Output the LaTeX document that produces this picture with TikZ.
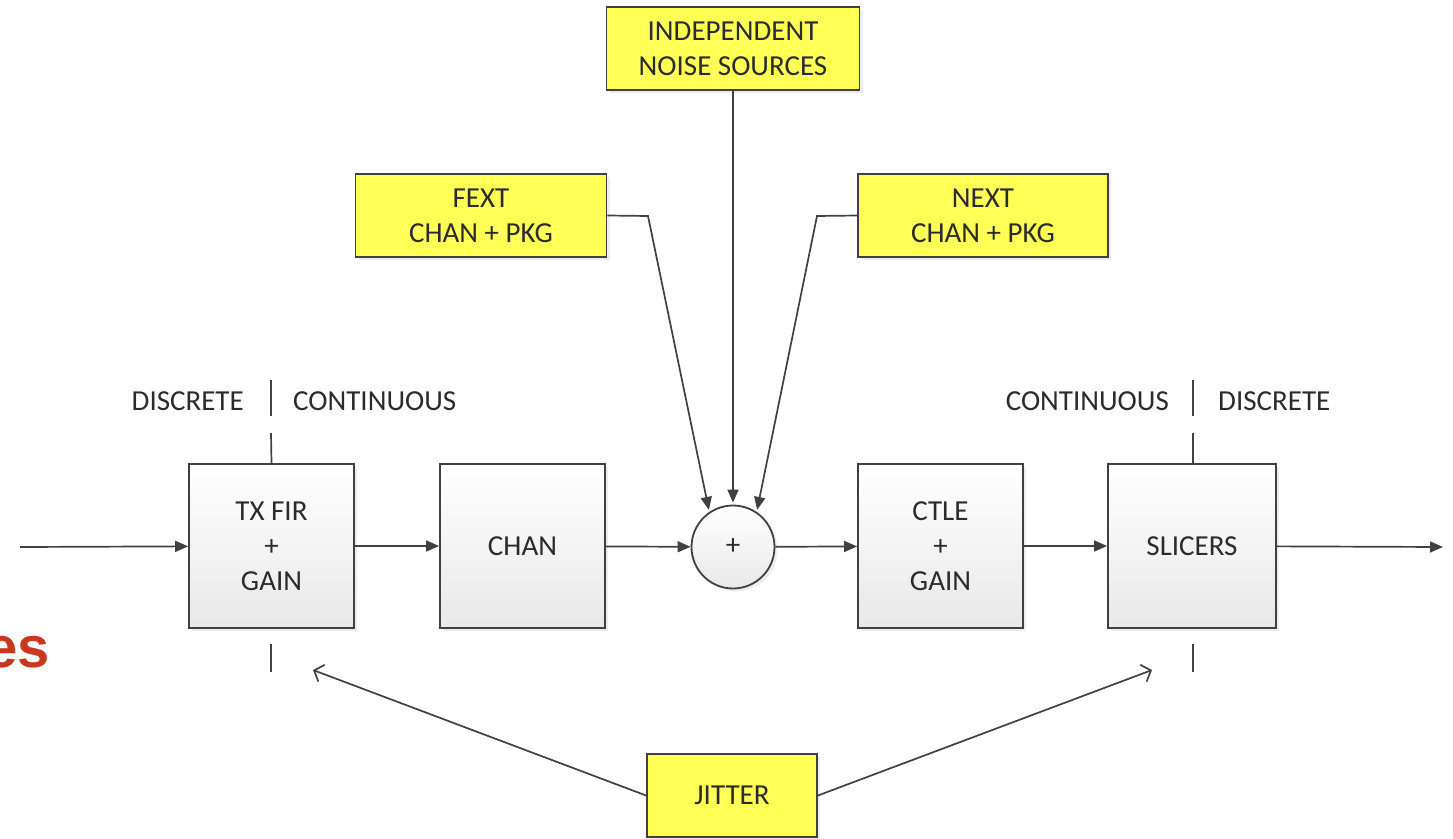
\documentclass[tikz,border=0pt]{standalone}
\usepackage{fontspec}
\setmainfont{Carlito}
\newfontfamily\redfont{Liberation Sans}
\usetikzlibrary{arrows.meta,shadows}
\definecolor{linec}{HTML}{404040}
\definecolor{txtc}{HTML}{2B2B2B}
\definecolor{ylw}{HTML}{FFFF55}
\definecolor{redc}{HTML}{C8371E}
\tikzset{
  base/.style={draw=linec, line width=1.8pt, text=txtc, align=center,
    font=\fontsize{29}{35}\selectfont, inner sep=0pt,
    drop shadow={shadow xshift=3pt, shadow yshift=-3pt, fill=black!14, draw=none}},
  graybox/.style={base, rectangle, top color=white, bottom color=black!9,
    minimum width=165pt, minimum height=164pt},
  sumnode/.style={base, circle, top color=white, bottom color=black!9,
    minimum size=83pt},
  ybox/.style={base, rectangle, fill=ylw, minimum height=83pt},
  arr/.style={draw=linec, line width=1.7pt, -{Triangle[length=13pt,width=11pt]}},
  jarr/.style={draw=linec, line width=1.7pt, -{Straight Barb[length=8pt,width=18pt,line width=1.7pt]}},
  tickl/.style={draw=linec, line width=1.7pt},
  lbl/.style={text=txtc, font=\fontsize{29}{35}\selectfont, inner sep=0pt}
}
\begin{document}
\begin{tikzpicture}[x=1pt,y=-1pt]
\useasboundingbox (0,0) rectangle (1453,838);
% red partial text (cut at the left edge as in the reference)
\node[anchor=base east, inner sep=0pt, text=redc, font=\redfont\bfseries\fontsize{58}{60}\selectfont] (es) at (50,667) {es};

% main chain
\node[graybox] (tx) at (271.5,546) {TX FIR\\+\\GAIN};
\node[graybox] (chan) at (522.5,546) {CHAN};
\node[sumnode] (sum) at (733,547) {+};
\node[graybox] (ctle) at (940.5,546) {CTLE\\+\\GAIN};
\node[graybox, minimum width=168pt] (slc) at (1192,546) {SLICERS};

% yellow sources
\node[ybox, minimum width=253pt] (noise) at (733,48.5) {INDEPENDENT\\NOISE SOURCES};
\node[ybox, minimum width=251pt] (fext) at (481,215.5) {FEXT\\CHAN + PKG};
\node[ybox, minimum width=250pt] (next) at (983,215.5) {NEXT\\CHAN + PKG};
\node[ybox, minimum width=170pt] (jit) at (732,795.5) {JITTER};

% coordinates
\coordinate (in) at (20,547);
\coordinate (out) at (1443,547);
\coordinate (fb) at (648,216);
\coordinate (nb) at (817,216);
\coordinate (jl) at (313,670);
\coordinate (jr) at (1152,670);

% connectors
\draw[arr] (in) -- (tx);
\draw[arr] (tx) -- (chan);
\draw[arr] (chan) -- (sum);
\draw[arr] (sum) -- (ctle);
\draw[arr] (ctle) -- (slc);
\draw[arr] (slc) -- (out);
\draw[arr, shorten >=2pt] (noise.south) -- (sum.north);
\draw[arr, shorten >=2pt] (fext.east) -- (fb) -- (sum.124);
\draw[arr, shorten >=2pt] (next.west) -- (nb) -- (sum.56);
\draw[jarr] (jit.west) -- (jl);
\draw[jarr] (jit.east) -- (jr);

% domain ticks
\draw[tickl] (271,380) -- (271,416);
\draw[tickl] (271,433) -- (tx.north);
\draw[tickl] (271,644) -- (271,672);
\draw[tickl] (1193,380) -- (1193,416);
\draw[tickl] (1193,433) -- (1193,464);
\draw[tickl] (1193,644) -- (1193,672);

% labels
\node[lbl, anchor=east] (d1) at (244,401) {DISCRETE};
\node[lbl, anchor=west] (c1) at (293,401) {CONTINUOUS};
\node[lbl, anchor=east] (c2) at (1169,401) {CONTINUOUS};
\node[lbl, anchor=west] (d2) at (1218,401) {DISCRETE};
\end{tikzpicture}
\end{document}
